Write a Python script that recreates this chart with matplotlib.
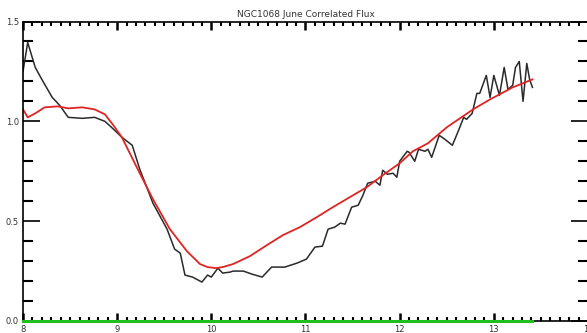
import matplotlib
matplotlib.use("Agg")
import matplotlib.pyplot as plt
from matplotlib.ticker import MultipleLocator

title = "NGC1068 June Correlated Flux"

flux_wl = [8.0, 8.05, 8.13, 8.2, 8.31, 8.39, 8.48, 8.63, 8.76, 8.87, 8.94, 9.05,
           9.16, 9.24, 9.38, 9.53, 9.61, 9.67, 9.72, 9.8, 9.9, 9.96, 10.0, 10.07,
           10.12, 10.2, 10.23, 10.34, 10.43, 10.54, 10.64, 10.78, 10.91, 11.01,
           11.1, 11.18, 11.24, 11.31, 11.37, 11.42, 11.49, 11.56, 11.61, 11.66,
           11.74, 11.79, 11.82, 11.87, 11.93, 11.97, 12.0, 12.08, 12.1, 12.16,
           12.2, 12.27, 12.3, 12.34, 12.42, 12.48, 12.56, 12.63, 12.68, 12.71,
           12.77, 12.82, 12.85, 12.92, 12.96, 13.0, 13.06, 13.11, 13.15, 13.2,
           13.23, 13.27, 13.31, 13.35, 13.38, 13.41]
flux = [1.25, 1.395, 1.27, 1.21, 1.12, 1.08, 1.02, 1.015, 1.02, 1.0, 0.97, 0.92,
        0.88, 0.76, 0.59, 0.46, 0.36, 0.34, 0.23, 0.22, 0.195, 0.23, 0.22, 0.265,
        0.24, 0.245, 0.25, 0.25, 0.235, 0.22, 0.27, 0.27, 0.29, 0.31,
        0.37, 0.375, 0.46, 0.47, 0.49, 0.485, 0.57, 0.58, 0.63, 0.69,
        0.70, 0.68, 0.755, 0.735, 0.74, 0.72, 0.80, 0.85, 0.845, 0.80,
        0.86, 0.85, 0.86, 0.82, 0.93, 0.91, 0.88, 0.96, 1.02, 1.01,
        1.04, 1.14, 1.14, 1.23, 1.12, 1.23, 1.13, 1.27, 1.16, 1.18,
        1.27, 1.30, 1.10, 1.29, 1.21, 1.17]

model_wl = [8.0, 8.05, 8.13, 8.23, 8.37, 8.48, 8.63, 8.76, 8.87, 8.96, 9.05,
            9.24, 9.38, 9.56, 9.74, 9.88, 9.96, 10.05, 10.12, 10.23, 10.41,
            10.59, 10.76, 10.94, 11.12, 11.29, 11.47, 11.65, 11.82, 12.0,
            12.14, 12.3, 12.5, 12.78, 12.96, 13.2, 13.41]
model = [1.06, 1.02, 1.04, 1.07, 1.075, 1.065, 1.07, 1.06, 1.035, 0.98, 0.92,
         0.74, 0.61, 0.46, 0.35, 0.285, 0.27, 0.265, 0.27, 0.285, 0.325,
         0.38, 0.43, 0.47, 0.52, 0.57, 0.62, 0.67, 0.73, 0.79,
         0.85, 0.89, 0.97, 1.06, 1.11, 1.17, 1.21]

zero_wl = [8.0, 13.41]
zero = [0.0, 0.0]

x_ticks = [8, 9, 10, 11, 12, 13, 14]
x_labels = ["8", "9", "10", "11", "12", "13", "14"]
y_ticks = [0.0, 0.5, 1.0, 1.5]
y_labels = ["0.0", "0.5", "1.0", "1.5"]

fig = plt.figure(figsize=(5.87, 3.33), dpi=100)
ax = fig.add_axes([23 / 587, 12 / 333, 565 / 587, 299.5 / 333])

ax.plot(flux_wl, flux, color="#2a2a2a", lw=1.1)
ax.plot(model_wl, model, color="#e02424", lw=1.3)
ax.plot(zero_wl, zero, color="#1fbf1f", lw=2.2, clip_on=False, zorder=5)

ax.set_xlim(8, 14)
ax.set_ylim(0, 1.5)
ax.set_xticks(x_ticks)
ax.set_xticklabels(x_labels)
ax.set_yticks(y_ticks)
ax.set_yticklabels(y_labels)
ax.xaxis.set_minor_locator(MultipleLocator(0.1))
ax.yaxis.set_minor_locator(MultipleLocator(0.1))

ax.tick_params(axis="x", which="major", direction="in", top=True, length=6,
               width=1.8, labelsize=6, pad=3, colors="black", labelcolor="#333333")
ax.tick_params(axis="x", which="minor", direction="in", top=True, length=3,
               width=1.5, colors="black")
ax.tick_params(axis="y", which="major", direction="in", right=True, length=12,
               width=1.2, labelsize=6, pad=3, colors="black", labelcolor="#333333")
ax.tick_params(axis="y", which="minor", direction="in", right=True, length=7,
               width=1.5, colors="black")

for s in ax.spines.values():
    s.set_linewidth(1.2)
    s.set_color("black")

ax.set_title(title, fontsize=6.5, color="#333333", pad=3)

fig.savefig("out.png", dpi=100)
